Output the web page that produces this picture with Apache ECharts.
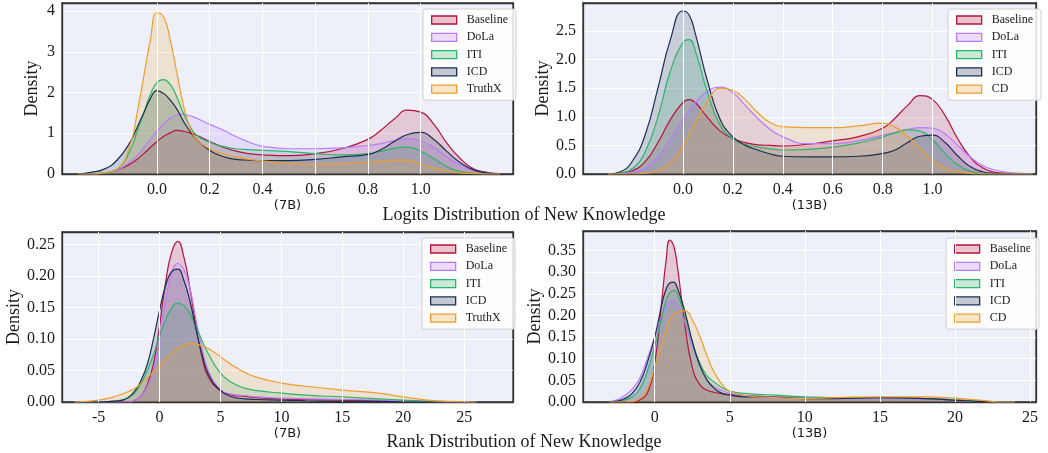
<!DOCTYPE html>
<html><head><meta charset="utf-8">
<script src="https://cdn.jsdelivr.net/npm/echarts@6/dist/echarts.min.js"></script>
<style>html,body{margin:0;padding:0;background:#fff;}#c{width:1048px;height:453px;}</style>
</head><body><div id="c"></div>
<script>
// ---------- data ----------
const names7 = ['Baseline', 'DoLa', 'ITI', 'ICD', 'TruthX'];
const names13 = ['Baseline', 'DoLa', 'ITI', 'ICD', 'CD'];

// Logits distribution (7B)
const xLogit7 = [-0.3,-0.25,-0.2,-0.15,-0.1,-0.075,-0.05,-0.025,0,0.025,0.05,0.075,0.1,0.125,0.15,0.2,0.25,0.3,0.35,0.4,0.5,0.6,0.7,0.8,0.85,0.9,0.95,1.0,1.05,1.1,1.15,1.2,1.25,1.3];
const logit7Baseline = [0,0,0.02,0.1,0.25,0.36,0.5,0.65,0.8,0.92,1.01,1.07,1.05,1.01,0.95,0.8,0.66,0.56,0.5,0.47,0.45,0.5,0.62,0.85,1.08,1.35,1.57,1.52,1.22,0.75,0.38,0.13,0.04,0.01];
const logit7DoLa = [0,0,0.02,0.1,0.3,0.45,0.65,0.85,1.05,1.22,1.37,1.45,1.47,1.43,1.37,1.22,1.08,0.92,0.78,0.68,0.62,0.62,0.64,0.7,0.75,0.82,0.87,0.81,0.65,0.42,0.22,0.09,0.03,0.01];
const logit7ITI = [0,0,0.02,0.12,0.6,1.05,1.5,1.95,2.25,2.32,2.2,1.9,1.5,1.18,0.95,0.78,0.68,0.62,0.6,0.58,0.55,0.5,0.47,0.5,0.56,0.63,0.66,0.56,0.38,0.18,0.06,0.02,0,0];
const logit7ICD = [0,0.04,0.12,0.35,0.8,1.15,1.5,1.85,2.05,1.98,1.82,1.6,1.3,1.05,0.85,0.58,0.43,0.36,0.34,0.33,0.33,0.36,0.42,0.48,0.6,0.8,0.97,1.02,0.85,0.55,0.28,0.1,0.03,0];
const logit7TruthX = [0,0,0.03,0.12,0.75,1.5,2.4,3.3,3.96,3.86,3.3,2.5,1.7,1.15,0.85,0.62,0.5,0.42,0.36,0.32,0.26,0.24,0.25,0.29,0.32,0.34,0.34,0.25,0.15,0.08,0.03,0.01,0,0];

// Logits distribution (13B)
const xLogit13 = [-0.3,-0.25,-0.2,-0.15,-0.1,-0.05,0,0.025,0.05,0.1,0.15,0.2,0.25,0.3,0.35,0.4,0.5,0.6,0.7,0.8,0.85,0.9,0.95,1.0,1.05,1.1,1.15,1.2,1.25,1.3,1.35,1.4];
const logit13Baseline = [0,0.01,0.06,0.22,0.55,0.95,1.25,1.3,1.25,0.98,0.75,0.62,0.55,0.51,0.5,0.49,0.52,0.58,0.65,0.8,0.98,1.2,1.37,1.3,1.02,0.62,0.3,0.11,0.03,0.01,0,0];
const logit13DoLa = [0,0.01,0.03,0.1,0.3,0.6,0.95,1.1,1.25,1.45,1.52,1.42,1.2,0.97,0.78,0.65,0.53,0.53,0.58,0.68,0.73,0.78,0.81,0.8,0.7,0.5,0.3,0.15,0.07,0.03,0.01,0];
const logit13ITI = [0,0.02,0.1,0.4,1.0,1.8,2.3,2.35,2.15,1.4,0.85,0.62,0.52,0.47,0.44,0.42,0.43,0.47,0.54,0.65,0.72,0.77,0.75,0.6,0.36,0.16,0.05,0.01,0,0,0,0];
const logit13ICD = [0,0.04,0.24,0.7,1.5,2.35,2.85,2.78,2.45,1.6,0.95,0.65,0.5,0.42,0.35,0.31,0.3,0.3,0.31,0.36,0.42,0.55,0.66,0.68,0.55,0.32,0.13,0.04,0.01,0,0,0];
const logit13CD = [0,0,0,0.01,0.06,0.2,0.5,0.7,0.9,1.28,1.5,1.46,1.3,1.07,0.9,0.83,0.81,0.81,0.84,0.89,0.82,0.66,0.44,0.24,0.1,0.04,0.01,0,0,0,0,0];

// Rank distribution (7B)
const xRank7 = [-7,-6,-5,-4,-3,-2.5,-2,-1.5,-1,-0.5,0,0.5,1,1.5,2,2.5,3,3.5,4,5,6,7,8,10,12,15,18,20,22,24,26];
const rank7Baseline = [0,0,0,0,0,0,0.003,0.01,0.028,0.06,0.12,0.19,0.238,0.255,0.23,0.18,0.12,0.07,0.04,0.018,0.011,0.009,0.007,0.005,0.004,0.003,0.002,0.002,0.001,0,0];
const rank7DoLa = [0,0,0,0,0,0,0.003,0.01,0.025,0.05,0.1,0.16,0.205,0.22,0.21,0.18,0.13,0.085,0.05,0.02,0.012,0.01,0.008,0.006,0.005,0.004,0.003,0.002,0.001,0,0];
const rank7ITI = [0,0,0,0.001,0.004,0.008,0.015,0.03,0.05,0.075,0.105,0.13,0.15,0.157,0.153,0.14,0.12,0.097,0.077,0.046,0.03,0.022,0.018,0.014,0.011,0.008,0.005,0.003,0.001,0,0];
const rank7ICD = [0,0,0,0.001,0.003,0.008,0.018,0.035,0.06,0.1,0.145,0.185,0.207,0.211,0.193,0.16,0.115,0.075,0.045,0.018,0.008,0.005,0.004,0.003,0.002,0.001,0.001,0,0,0,0];
const rank7TruthX = [0,0.001,0.003,0.007,0.013,0.017,0.022,0.03,0.038,0.048,0.058,0.068,0.078,0.085,0.09,0.093,0.092,0.089,0.085,0.072,0.058,0.047,0.039,0.03,0.025,0.019,0.014,0.008,0.003,0.001,0];

// Rank distribution (13B)
const xRank13 = [-3,-2.5,-2,-1.5,-1,-0.5,0,0.5,0.75,1,1.25,1.5,2,2.5,3,3.5,4,4.5,5,6,8,10,12,15,18,20,22,23,24];
const rank13Baseline = [0,0,0,0,0.005,0.02,0.09,0.245,0.325,0.374,0.362,0.315,0.18,0.08,0.04,0.027,0.022,0.019,0.017,0.015,0.012,0.01,0.01,0.01,0.008,0.005,0.001,0,0];
const rank13DoLa = [0.001,0.005,0.015,0.03,0.055,0.1,0.15,0.2,0.222,0.233,0.234,0.224,0.185,0.13,0.085,0.05,0.035,0.026,0.02,0.015,0.012,0.01,0.008,0.008,0.006,0.004,0.001,0,0];
const rank13ITI = [0,0.001,0.005,0.012,0.03,0.07,0.13,0.2,0.235,0.252,0.258,0.25,0.2,0.14,0.09,0.06,0.045,0.033,0.025,0.02,0.016,0.012,0.01,0.01,0.008,0.005,0.001,0,0];
const rank13ICD = [0,0.002,0.008,0.02,0.045,0.09,0.15,0.23,0.26,0.275,0.277,0.264,0.21,0.14,0.085,0.05,0.03,0.02,0.016,0.012,0.011,0.008,0.008,0.01,0.008,0.004,0.001,0,0];
const rank13CD = [0,0,0,0.001,0.008,0.03,0.08,0.14,0.165,0.19,0.203,0.207,0.211,0.19,0.152,0.105,0.066,0.04,0.025,0.015,0.01,0.008,0.01,0.012,0.012,0.009,0.003,0,0];

// tick labels
const ticksLogit = [0, 0.2, 0.4, 0.6, 0.8, 1.0];
const ticksRank7 = [-5, 0, 5, 10, 15, 20, 25];
const ticksRank13 = [0, 5, 10, 15, 20, 25];
const subLabels = ['(7B)', '(13B)', '(7B)', '(13B)'];
const rowTitles = ['Logits Distribution of New Knowledge', 'Rank Distribution of New Knowledge'];

// ---------- style ----------
const colors = {Baseline:'#B8123E', DoLa:'#B97BFF', ITI:'#2CB566', ICD:'#1C2F52', TruthX:'#EE9E2E', CD:'#EE9E2E'};
function rgba(hex, a){const n=parseInt(hex.slice(1),16);return `rgba(${n>>16&255},${n>>8&255},${n&255},${a})`;}
const SERIF = 'Liberation Serif';
const TXT = '#1a1a1a';
const SPINE = {show:true, onZero:false, lineStyle:{color:'#333333', width:1.3}};

const panels = [
  {grid:{left:62, top:3, width:451, height:171}, xmin:-0.36, xmax:1.35, ymin:0, ymax:4.2, yint:1, ydec:0,
   xs:xLogit7, names:names7, ys:[logit7Baseline,logit7DoLa,logit7ITI,logit7ICD,logit7TruthX], ticks:ticksLogit, xdec:1,
   nameGap:22, yNameGap:21, legend:{left:423, top:9}},
  {grid:{left:583, top:3, width:453, height:171}, xmin:-0.40, xmax:1.414, ymin:0, ymax:2.99, yint:0.5, ydec:1,
   xs:xLogit13, names:names13, ys:[logit13Baseline,logit13DoLa,logit13ITI,logit13ICD,logit13CD], ticks:ticksLogit, xdec:1,
   nameGap:22, yNameGap:28, legend:{left:948, top:9}},
  {grid:{left:62, top:232, width:451, height:170}, xmin:-8, xmax:29, ymin:0, ymax:0.27, yint:0.05, ydec:2,
   xs:xRank7, names:names7, ys:[rank7Baseline,rank7DoLa,rank7ITI,rank7ICD,rank7TruthX], ticks:ticksRank7, xdec:0,
   nameGap:24, yNameGap:39, legend:{left:422, top:238}},
  {grid:{left:583, top:231, width:453, height:171}, xmin:-4.78, xmax:25.4, ymin:0, ymax:0.395, yint:0.05, ydec:2,
   xs:xRank13, names:names13, ys:[rank13Baseline,rank13DoLa,rank13ITI,rank13ICD,rank13CD], ticks:ticksRank13, xdec:0,
   nameGap:24, yNameGap:38, legend:{left:946, top:238}}
];

const option = {
  animation:false,
  backgroundColor:'#ffffff',
  title: [
    {text:rowTitles[0], left:'center', top:201, textStyle:{fontFamily:SERIF, fontSize:18, fontWeight:'normal', color:TXT}},
    {text:rowTitles[1], left:'center', top:428, textStyle:{fontFamily:SERIF, fontSize:18, fontWeight:'normal', color:TXT}}
  ],
  grid:[], xAxis:[], yAxis:[], legend:[], series:[]
};

panels.forEach((p, g) => {
  option.grid.push(Object.assign({show:true, backgroundColor:'#EDF0F8', borderColor:'#333333', borderWidth:1.3}, p.grid));
  option.xAxis.push({
    type:'value', gridIndex:g, min:p.xmin, max:p.xmax,
    name:subLabels[g], nameLocation:'middle', nameGap:p.nameGap,
    nameTextStyle:{fontFamily:'DejaVu Sans', fontSize:13, color:TXT},
    axisLine:SPINE, axisTick:{show:false}, splitLine:{show:false},
    axisLabel:{customValues:p.ticks, margin:8, fontFamily:SERIF, fontSize:16, color:TXT,
      formatter:(v)=>p.xdec ? Number(v).toFixed(p.xdec) : String(Math.round(v))}
  });
  option.yAxis.push({
    type:'value', gridIndex:g, min:p.ymin, max:p.ymax, interval:p.yint,
    name:'Density', nameLocation:'middle', nameGap:p.yNameGap,
    nameTextStyle:{fontFamily:SERIF, fontSize:18, color:TXT},
    axisLine:SPINE, axisTick:{show:false},
    splitLine:{show:true, lineStyle:{color:'#ffffff', width:1}},
    axisLabel:{showMaxLabel:false, margin:7, fontFamily:SERIF, fontSize:16, color:TXT,
      formatter:(v)=>Number(v).toFixed(p.ydec)}
  });
  // vertical grid lines at the tick values
  option.series.push({
    type:'line', xAxisIndex:g, yAxisIndex:g, data:[[p.ticks[0],0]], symbol:'none', silent:true, z:1,
    lineStyle:{opacity:0},
    markLine:{symbol:'none', silent:true, animation:false, label:{show:false},
      lineStyle:{color:'#ffffff', width:1, type:'solid'},
      data:p.ticks.map(v=>({xAxis:v}))}
  });
  p.names.forEach((n, i) => {
    const c = colors[n];
    option.series.push({
      type:'line', name:n, xAxisIndex:g, yAxisIndex:g,
      data:p.xs.map((x, k)=>[x, p.ys[i][k]]),
      smooth:0.5, showSymbol:false, symbol:'none', z:2,
      lineStyle:{color:c, width:1.2}, itemStyle:{color:c},
      areaStyle:{color:rgba(c, 0.25)}
    });
  });
  option.legend.push({
    orient:'vertical', left:p.legend.left, top:p.legend.top, selectedMode:false,
    backgroundColor:'rgba(255,255,255,0.85)', borderColor:'#d0d0d0', borderWidth:1, borderRadius:3,
    padding:[4,8,4,8], itemWidth:25, itemHeight:8, itemGap:3.3,
    textStyle:{fontFamily:SERIF, fontSize:12, color:TXT, lineHeight:14, padding:[0,0,0,5]},
    data:p.names.map(n=>({name:n, icon:'rect', itemStyle:{color:rgba(colors[n],0.25), borderColor:colors[n], borderWidth:1.3}}))
  });
});
// extra axes for top / right spines
panels.forEach((p, g) => {
  option.xAxis.push({type:'value', gridIndex:g, position:'top', min:p.xmin, max:p.xmax, axisLine:SPINE,
    axisTick:{show:false}, axisLabel:{show:false}, splitLine:{show:false}});
  option.yAxis.push({type:'value', gridIndex:g, position:'right', min:p.ymin, max:p.ymax, axisLine:SPINE,
    axisTick:{show:false}, axisLabel:{show:false}, splitLine:{show:false}});
});

const chart = echarts.init(document.getElementById('c'), null, {renderer:'canvas'});
chart.setOption(option);
</script>
</body></html>
